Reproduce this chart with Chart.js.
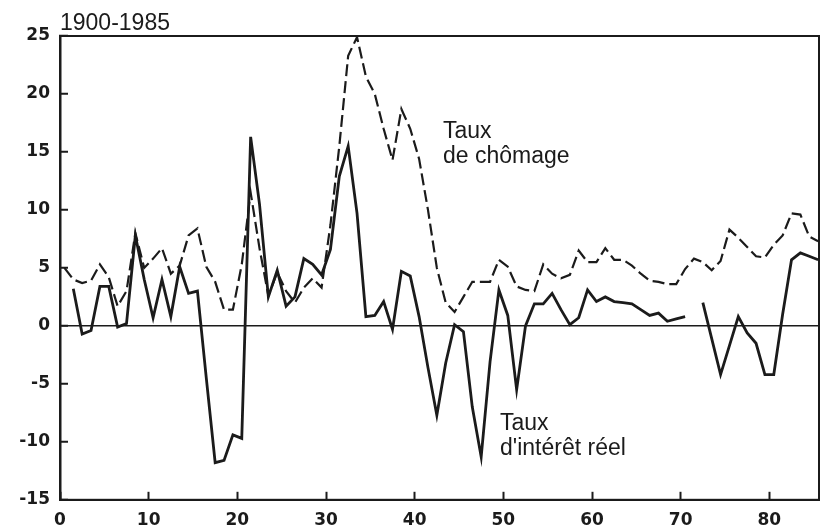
<!DOCTYPE html>
<html>
<head>
<meta charset="utf-8">
<script src="https://cdn.jsdelivr.net/npm/chart.js@4.4.1/dist/chart.umd.min.js"></script>
<style>
  html, body { margin: 0; padding: 0; background: #fff; }
</style>
</head>
<body>
<canvas id="chart" width="822" height="528"></canvas>
<script>
// years 1900-1985, annual values plotted at mid-year
const years = [
    1900, 1901, 1902, 1903, 1904, 1905, 1906, 1907, 1908, 1909,
    1910, 1911, 1912, 1913, 1914, 1915, 1916, 1917, 1918, 1919,
    1920, 1921, 1922, 1923, 1924, 1925, 1926, 1927, 1928, 1929,
    1930, 1931, 1932, 1933, 1934, 1935, 1936, 1937, 1938, 1939,
    1940, 1941, 1942, 1943, 1944, 1945, 1946, 1947, 1948, 1949,
    1950, 1951, 1952, 1953, 1954, 1955, 1956, 1957, 1958, 1959,
    1960, 1961, 1962, 1963, 1964, 1965, 1966, 1967, 1968, 1969,
    1970, 1971, 1972, 1973, 1974, 1975, 1976, 1977, 1978, 1979,
    1980, 1981, 1982, 1983, 1984, 1985
];

// Taux de chômage (dashed)
const chomage = [
    5.0, 4.0, 3.7, 3.9, 5.3, 4.2, 1.7, 3.0, 8.0, 5.0,
    5.8, 6.7, 4.5, 5.2, 7.8, 8.4, 5.1, 3.8, 1.4, 1.4,
    5.3, 11.5, 6.7, 2.6, 4.6, 3.0, 2.0, 3.3, 4.1, 3.3,
    8.7, 15.5, 23.3, 24.9, 21.5, 20.0, 17.0, 14.3, 18.7, 17.0,
    14.4, 10.0, 5.0, 2.0, 1.2, 2.5, 3.8, 3.8, 3.8, 5.7,
    5.1, 3.4, 3.1, 3.0, 5.3, 4.5, 4.1, 4.4, 6.5, 5.5,
    5.5, 6.7, 5.7, 5.7, 5.2, 4.5, 3.9, 3.8, 3.6, 3.6,
    4.9, 5.8, 5.5, 4.8, 5.6, 8.3, 7.6, 6.8, 6.0, 5.9,
    7.0, 7.8, 9.7, 9.6, 7.7, 7.3
];

// Taux d'intérêt réel (solid), null = no value
const interetReel = [
    null, 3.2, -0.7, -0.4, 3.4, 3.4, -0.1, 0.2, 7.8, 4.0,
    0.7, 4.0, 0.8, 5.1, 2.8, 3.0, -4.5, -11.8, -11.6, -9.4,
    -9.7, 16.3, 10.5, 2.5, 4.8, 1.7, 2.5, 5.8, 5.3, 4.4,
    6.6, 12.9, 15.5, 9.7, 0.8, 0.9, 2.1, -0.3, 4.7, 4.3,
    0.8, -3.6, -7.7, -3.2, 0.1, -0.5, -7.0, -11.3, -3.1, 3.1,
    0.9, -5.5, 0.0, 1.9, 1.9, 2.8, 1.4, 0.1, 0.7, 3.1,
    2.1, 2.5, 2.1, 2.0, 1.9, 1.4, 0.9, 1.1, 0.4, 0.6,
    0.8, null, 2.0, -1.1, -4.2, -1.7, 0.8, -0.6, -1.5, -4.2,
    -4.2, 1.0, 5.7, 6.3, 6.0, 5.7
];

const xTicks = [0, 10, 20, 30, 40, 50, 60, 70, 80];
const yTicks = [-15, -10, -5, 0, 5, 10, 15, 20, 25];
const title = "1900-1985";
const labelChomage = ["Taux", "de chômage"];
const labelInteret = ["Taux", "d'intérêt réel"];

const ink = "#1b1b1b";

function toPoints(values) {
    return years.map((yr, i) => ({ x: yr - 1900 + 0.5, y: values[i] }));
}

const decorations = {
    id: "decorations",
    afterDraw(chart) {
        const { ctx, chartArea: a } = chart;
        ctx.save();
        ctx.strokeStyle = ink;
        ctx.lineWidth = 2;
        ctx.strokeRect(a.left, a.top, a.right - a.left, a.bottom - a.top);

        ctx.fillStyle = ink;
        ctx.font = "23px 'Liberation Sans', Arial, sans-serif";
        ctx.textAlign = "left";
        ctx.textBaseline = "alphabetic";
        ctx.fillText(title, a.left, 30);

        ctx.fillText(labelChomage[0], 443, 138);
        ctx.fillText(labelChomage[1], 443, 163);
        ctx.fillText(labelInteret[0], 500, 430);
        ctx.fillText(labelInteret[1], 500, 455);
        ctx.restore();
    }
};

const ctx = document.getElementById("chart").getContext("2d");

const chart = new Chart(ctx, {
    type: "line",
    data: {
        datasets: [
            {
                label: "Taux de chômage",
                data: toPoints(chomage),
                borderColor: ink,
                borderWidth: 2.2,
                borderDash: [12, 5],
                pointRadius: 0,
                tension: 0,
                fill: false
            },
            {
                label: "Taux d'intérêt réel",
                data: toPoints(interetReel),
                borderColor: ink,
                borderWidth: 2.8,
                pointRadius: 0,
                tension: 0,
                spanGaps: false,
                fill: false
            }
        ]
    },
    options: {
        responsive: false,
        animation: false,
        layout: {
            padding: { top: 36, right: 3, left: 0, bottom: 0 }
        },
        plugins: {
            legend: { display: false },
            tooltip: { enabled: false }
        },
        scales: {
            x: {
                type: "linear",
                min: 0,
                max: 85.6,
                afterBuildTicks: scale => {
                    scale.ticks = xTicks.map(v => ({ value: v }));
                },
                afterFit: scale => { scale.height = 28; },
                border: { color: ink, width: 2 },
                grid: {
                    drawOnChartArea: false,
                    tickLength: -8,
                    tickColor: ink,
                    tickWidth: 2
                },
                ticks: {
                    color: ink,
                    padding: 19,
                    maxRotation: 0,
                    font: { family: "'DejaVu Sans'", size: 17, weight: "bold" }
                }
            },
            y: {
                min: -15,
                max: 25,
                afterBuildTicks: scale => {
                    scale.ticks = yTicks.map(v => ({ value: v }));
                },
                afterFit: scale => { scale.width = 60; },
                border: { color: ink, width: 2.5 },
                grid: {
                    drawOnChartArea: true,
                    color: c => (c.tick && c.tick.value === 0 ? ink : "rgba(0,0,0,0)"),
                    lineWidth: 1.5,
                    tickLength: -8,
                    tickColor: ink,
                    tickWidth: 2
                },
                ticks: {
                    color: ink,
                    padding: 18,
                    font: { family: "'DejaVu Sans'", size: 17, weight: "bold" },
                    callback: v => String(v)
                }
            }
        }
    },
    plugins: [decorations]
});
</script>
</body>
</html>
